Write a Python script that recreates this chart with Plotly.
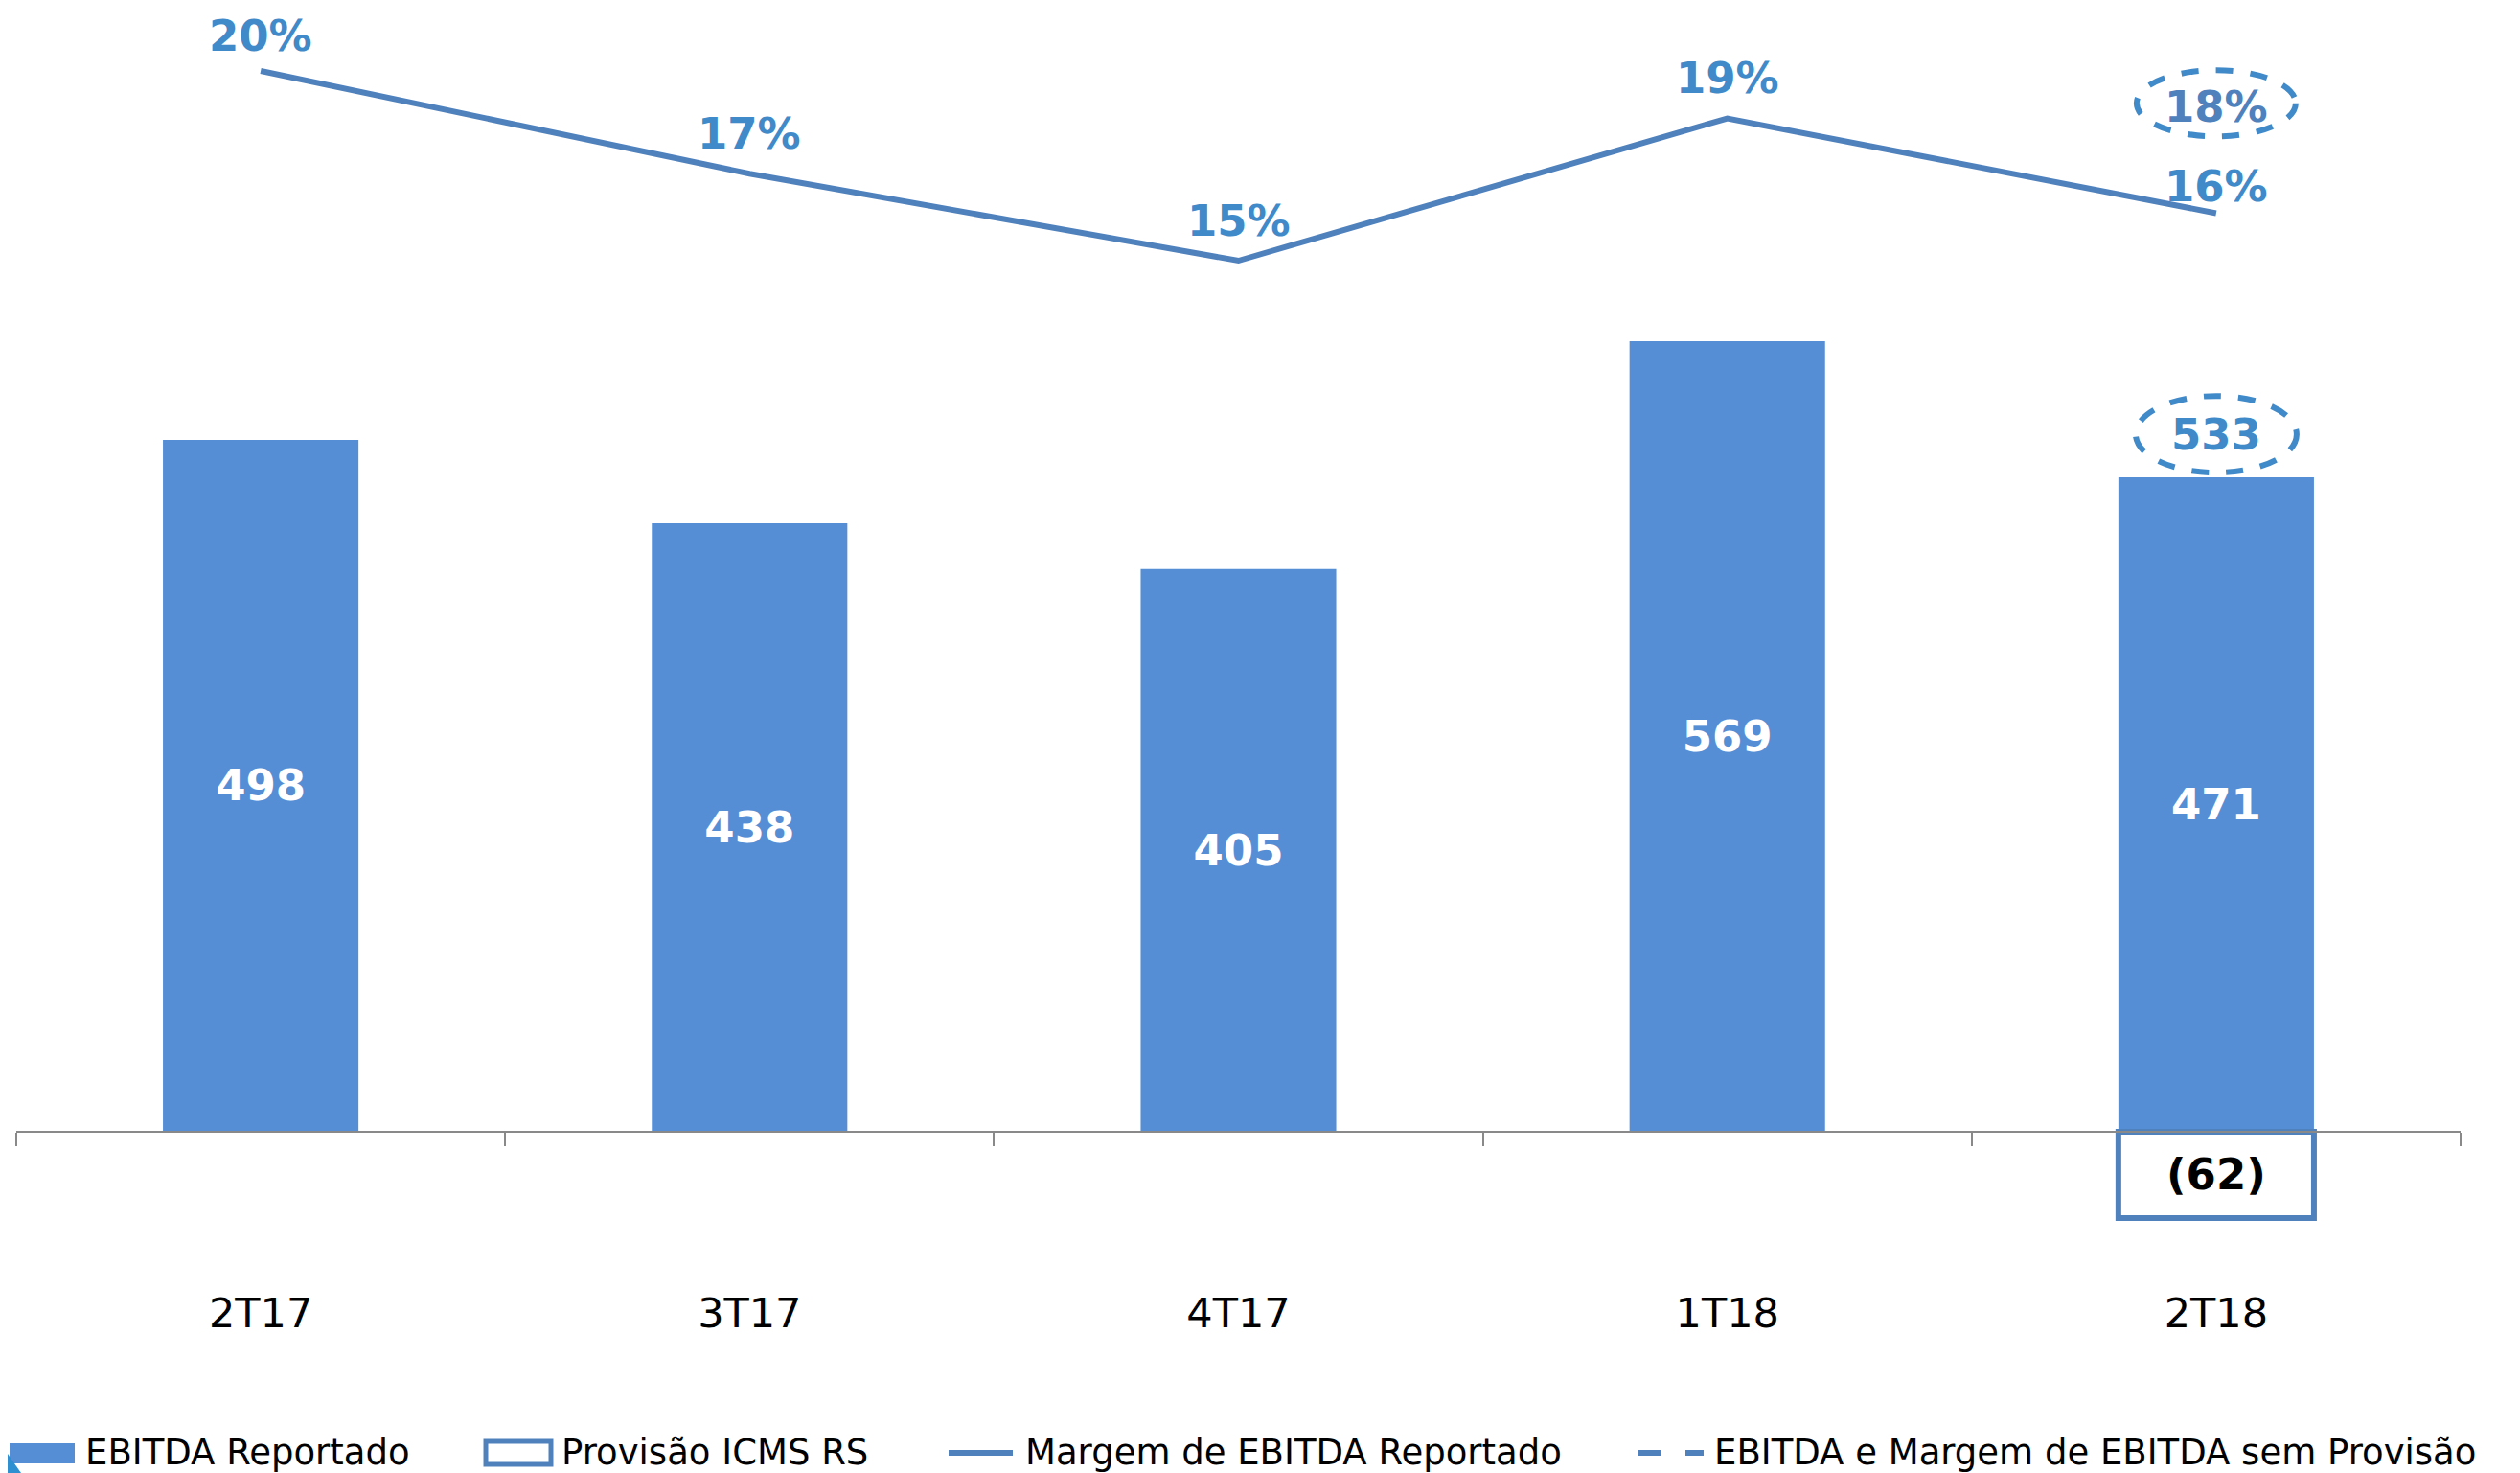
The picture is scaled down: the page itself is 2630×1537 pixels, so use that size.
import plotly.graph_objects as go

# page size; the browser body has an 8px margin, so the figure is 8px smaller
W, H = 2630, 1537
OFF = 8
FW, FH = W - OFF, H - OFF

quarters = ["2T17", "3T17", "4T17", "1T18", "2T18"]
ebitda_reportado = [498, 438, 405, 569, 471]
provisao_icms = [None, None, None, None, -62]
margem_reportado = [0.198, 0.172, 0.150, 0.186, 0.162]
ebitda_sem_provisao = [None, None, None, None, 533]
margem_sem_provisao = [None, None, None, None, 0.18]

legend_names = [
    "EBITDA Reportado",
    "Provisão ICMS RS",
    "Margem de EBITDA Reportado",
    "EBITDA e Margem de EBITDA sem Provisão",
]

BAR = "#558ED5"
LINE = "#4F81BD"
LABEL = "#418AC9"
FONT = "DejaVu Sans"

# vertical offsets (px) of the margin labels above their points
margin_label_shift = [37, 42, 42, 42, 28]


def fx(p):
    return (p - OFF) / FW


def fy(p):
    return 1 - (p - OFF) / FH


fig = go.Figure()

fig.add_trace(go.Bar(
    x=quarters, y=ebitda_reportado,
    name=legend_names[0],
    marker=dict(color=BAR, line=dict(width=0)),
    text=[str(v) for v in ebitda_reportado],
    textposition="inside", insidetextanchor="middle",
    textfont=dict(family=FONT, size=45, color="white", weight="bold"),
    constraintext="none",
))

fig.add_trace(go.Bar(
    x=quarters, y=provisao_icms,
    name=legend_names[1],
    marker=dict(color="white", line=dict(color=LINE, width=6)),
    text=[f"({-v})" if v is not None else "" for v in provisao_icms],
    textposition="inside", insidetextanchor="middle",
    textfont=dict(family=FONT, size=45, color="black", weight="bold"),
    constraintext="none",
))

fig.add_trace(go.Scatter(
    x=quarters, y=margem_reportado,
    name=legend_names[2],
    mode="lines", yaxis="y2",
    line=dict(color=LINE, width=6),
))

annotations = []
for q, m, dy in zip(quarters, margem_reportado, margin_label_shift):
    annotations.append(dict(
        x=q, y=m, xref="x", yref="y2",
        text=f"{m * 100:.0f}%", showarrow=False, yshift=dy,
        font=dict(family=FONT, size=45, color=LABEL, weight="bold"),
    ))

shapes = []
for q, v in zip(quarters, ebitda_sem_provisao):
    if v is None:
        continue
    annotations.append(dict(
        x=q, y=v, xref="x", yref="y", text=str(v), showarrow=False,
        yshift=-45, font=dict(family=FONT, size=45, color=LABEL, weight="bold"),
    ))
    shapes.append(dict(
        type="circle", xref="x", yref="y",
        xsizemode="pixel", ysizemode="pixel", xanchor=q, yanchor=v,
        x0=-84, x1=84, y0=-85, y1=-5,
        line=dict(color=LABEL, width=6, dash="dash"),
    ))
for q, m in zip(quarters, margem_sem_provisao):
    if m is None:
        continue
    annotations.append(dict(
        x=q, y=m, xref="x", yref="y2", text=f"{m * 100:.0f}%", showarrow=False,
        yshift=37, font=dict(family=FONT, size=45, color=LINE, weight="bold"),
    ))
    shapes.append(dict(
        type="circle", xref="x", yref="y2",
        xsizemode="pixel", ysizemode="pixel", xanchor=q, yanchor=m,
        x0=-83, x1=83, y0=6, y1=75,
        line=dict(color=LABEL, width=6, dash="dash"),
    ))

# legend drawn by hand (Excel-style wide symbols)
LEG_Y = 1516
leg_text_x = [87, 584, 1068, 1787]
shapes.append(dict(type="rect", xref="paper", yref="paper",
                   x0=fx(10), x1=fx(78), y0=fy(1527), y1=fy(1506),
                   fillcolor=BAR, line=dict(width=0)))
shapes.append(dict(type="rect", xref="paper", yref="paper",
                   x0=fx(507), x1=fx(575), y0=fy(1528), y1=fy(1504),
                   fillcolor="white", line=dict(color=LINE, width=5)))
shapes.append(dict(type="line", xref="paper", yref="paper",
                   x0=fx(990), x1=fx(1057), y0=fy(LEG_Y), y1=fy(LEG_Y),
                   line=dict(color=LINE, width=6)))
for a, b in [(1709, 1733), (1759, 1778)]:
    shapes.append(dict(type="line", xref="paper", yref="paper",
                       x0=fx(a), x1=fx(b), y0=fy(LEG_Y), y1=fy(LEG_Y),
                       line=dict(color=LINE, width=6)))
for name, tx in zip(legend_names, leg_text_x):
    annotations.append(dict(
        x=fx(tx), y=fy(1515), xref="paper", yref="paper",
        xanchor="left", yanchor="middle", text=name, showarrow=False,
        font=dict(family=FONT, size=37, color="black"),
    ))

# slide corner decoration
shapes.append(dict(
    type="path", xref="paper", yref="paper",
    path=f"M {fx(OFF)} {fy(1517)} L {fx(22)} 0 L {fx(OFF)} 0 Z",
    fillcolor="#2E8FD1", line=dict(width=0),
))

fig.update_layout(
    width=FW, height=FH,
    margin=dict(l=0, r=0, t=0, b=0),
    paper_bgcolor="white", plot_bgcolor="white",
    barmode="relative", bargap=0.6,
    showlegend=False,
    xaxis=dict(
        domain=[fx(17), fx(2568)],
        anchor="free", position=fy(1181),
        showline=True, linecolor="#898989", linewidth=2,
        ticks="outside", tickson="boundaries", ticklen=14,
        tickcolor="#898989", tickwidth=2,
        ticklabelstandoff=151,
        tickfont=dict(family=FONT, size=43, color="black"),
        showgrid=False, zeroline=False,
    ),
    yaxis=dict(
        domain=[fy(1300), 1],
        range=[-82.07, 808.97], visible=False,
        showgrid=False, zeroline=False,
    ),
    yaxis2=dict(
        domain=[fy(1300), 1],
        overlaying="y", side="right",
        range=[-0.0992, 0.2140], visible=False,
        showgrid=False, zeroline=False,
    ),
    annotations=annotations,
    shapes=shapes,
)

fig.write_html("out.html")
